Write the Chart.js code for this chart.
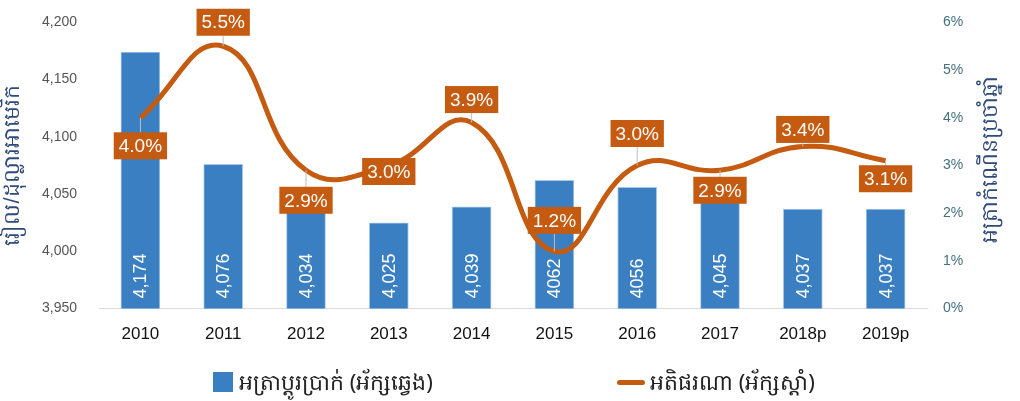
<!DOCTYPE html>
<html>
<head>
<meta charset="utf-8">
<script src="https://cdn.jsdelivr.net/npm/chart.js@4.4.0/dist/chart.umd.min.js"></script>
<style>
  html, body { margin: 0; padding: 0; background: #fff; }
  #wrap { position: relative; width: 1020px; height: 401px; }
  #legend { position: absolute; top: 366px; left: 0; width: 1020px; font-family: "Noto Sans", sans-serif; font-size: 22px; color: #222; }
  .item { position: absolute; top: 0; white-space: nowrap; }
  .sw-bar { display: inline-block; width: 20px; height: 20px; background: #3a7fc2; vertical-align: -2px; margin-right: 6px; }
  .sw-line { display: inline-block; width: 28px; height: 5px; border-radius: 3px; background: #c55a11; vertical-align: 5px; margin-right: 5px; }
</style>
</head>
<body>
<div id="wrap">
  <canvas id="chart" width="1020" height="401"></canvas>
  <div id="legend">
    <div class="item" style="left:213px"><span class="sw-bar"></span>អត្រាប្តូរប្រាក់ (អ័ក្សឆ្វេង)</div>
    <div class="item" style="left:617px"><span class="sw-line"></span>អតិផរណា (អ័ក្សស្តាំ)</div>
  </div>
</div>
<script>
var years = ["2010", "2011", "2012", "2013", "2014", "2015", "2016", "2017", "2018p", "2019p"];
var exchangeRate = [4174, 4076, 4034, 4025, 4039, 4062, 4056, 4045, 4037, 4037];
var exchangeLabels = ["4,174", "4,076", "4,034", "4,025", "4,039", "4062", "4056", "4,045", "4,037", "4,037"];
var inflation = [4.0, 5.5, 2.9, 3.0, 3.9, 1.2, 3.0, 2.9, 3.4, 3.1];
var inflationLabels = ["4.0%", "5.5%", "2.9%", "3.0%", "3.9%", "1.2%", "3.0%", "2.9%", "3.4%", "3.1%"];
var leftTicks = [3950, 4000, 4050, 4100, 4150, 4200];
var rightTicks = [0, 1, 2, 3, 4, 5, 6];
var rightTitle = "អត្រាកំណើនប្រចាំឆ្នាំ";

// where each inflation box sits relative to its point (px)
var labelShift = [28, -24, 30, 6, -23, -31, -32, 20, -17, 18];

var blue = "#3a7fc2";
var orange = "#c55a11";

const valueLabels = {
    id: "valueLabels",
    afterDatasetsDraw(chart) {
        const ctx = chart.ctx;
        const bottom = chart.scales.y.bottom;
        const area = chart.chartArea;

        // numbers inside the bars
        const bars = chart.getDatasetMeta(0).data;
        ctx.save();
        ctx.fillStyle = "#fff";
        ctx.font = "18px 'Liberation Sans', Arial, sans-serif";
        ctx.textBaseline = "middle";
        ctx.textAlign = "left";
        bars.forEach((b, i) => {
            ctx.save();
            ctx.translate(b.x, bottom - 10);
            ctx.rotate(-Math.PI / 2);
            ctx.fillText(exchangeLabels[i], 0, 1);
            ctx.restore();
        });
        ctx.restore();

        // boxes on the inflation line
        const pts = chart.getDatasetMeta(1).data;
        ctx.save();
        ctx.font = "19px 'Liberation Sans', Arial, sans-serif";
        ctx.textAlign = "center";
        ctx.textBaseline = "middle";
        pts.forEach((p, i) => {
            const cy = p.y + labelShift[i];
            const w = ctx.measureText(inflationLabels[i]).width + 10;
            const h = 27;
            if (Math.abs(labelShift[i]) > 15) {
                ctx.strokeStyle = "#bfbfbf";
                ctx.lineWidth = 1;
                ctx.beginPath();
                ctx.moveTo(p.x, p.y);
                ctx.lineTo(p.x, cy + (labelShift[i] > 0 ? -h / 2 : h / 2));
                ctx.stroke();
            }
            ctx.fillStyle = orange;
            ctx.fillRect(p.x - w / 2, cy - h / 2, w, h);
            ctx.fillStyle = "#fff";
            ctx.fillText(inflationLabels[i], p.x, cy + 1);
        });
        ctx.restore();

        // right axis title, reading bottom to top
        ctx.save();
        ctx.fillStyle = "#2f4a7a";
        ctx.font = "22px 'Noto Sans', sans-serif";
        ctx.textAlign = "center";
        ctx.textBaseline = "middle";
        ctx.translate(991, (area.top + area.bottom) / 2 - 6);
        ctx.rotate(-Math.PI / 2);
        ctx.fillText(rightTitle, 0, 0);
        ctx.restore();
    }
};

new Chart(document.getElementById("chart").getContext("2d"), {
    type: "bar",
    data: {
        labels: years,
        datasets: [
            {
                label: "អត្រាប្តូរប្រាក់(អ័ក្សឆ្វេង)",
                data: exchangeRate,
                backgroundColor: blue,
                borderColor: "#a9c8e8",
                borderWidth: 1,
                barThickness: 39,
                yAxisID: "y",
                order: 2
            },
            {
                type: "line",
                label: "អតិផរណា(អ័ក្សស្តាំ)",
                data: inflation,
                borderColor: orange,
                borderWidth: 5,
                pointRadius: 0,
                tension: 0.45,
                fill: false,
                yAxisID: "y1",
                order: 1
            }
        ]
    },
    options: {
        responsive: false,
        animation: false,
        layout: { padding: { top: 8, bottom: 48, left: 0, right: 0 } },
        plugins: {
            legend: { display: false },
            tooltip: { enabled: false }
        },
        scales: {
            x: {
                grid: { display: false },
                border: { color: "#d9d9d9" },
                ticks: { color: "#111", font: { size: 17, family: "'Liberation Sans', Arial, sans-serif" }, padding: 8 }
            },
            y: {
                position: "left",
                min: 3950,
                max: 4200,
                afterBuildTicks: (axis) => { axis.ticks = leftTicks.map(v => ({ value: v })); },
                grid: { display: false },
                border: { display: false },
                ticks: {
                    color: "#555",
                    font: { size: 14, family: "'Liberation Sans', Arial, sans-serif" },
                    padding: 14,
                    callback: (v) => v.toLocaleString("en-US")
                },
                title: {
                    display: true,
                    text: "រៀល/ដុល្លារអាមេរិក",
                    color: "#2f4a7a",
                    font: { size: 22 },
                    padding: { top: 0, bottom: 2 }
                },
                afterFit: (axis) => { axis.width = 99; }
            },
            y1: {
                position: "right",
                min: 0,
                max: 6,
                afterBuildTicks: (axis) => { axis.ticks = rightTicks.map(v => ({ value: v })); },
                grid: { display: false },
                border: { display: false },
                ticks: {
                    color: "#44707f",
                    font: { size: 14, family: "'Liberation Sans', Arial, sans-serif" },
                    padding: 8,
                    callback: (v) => v + "%"
                },
                afterFit: (axis) => { axis.width = 93; }
            }
        }
    },
    plugins: [valueLabels]
});
</script>
</body>
</html>
